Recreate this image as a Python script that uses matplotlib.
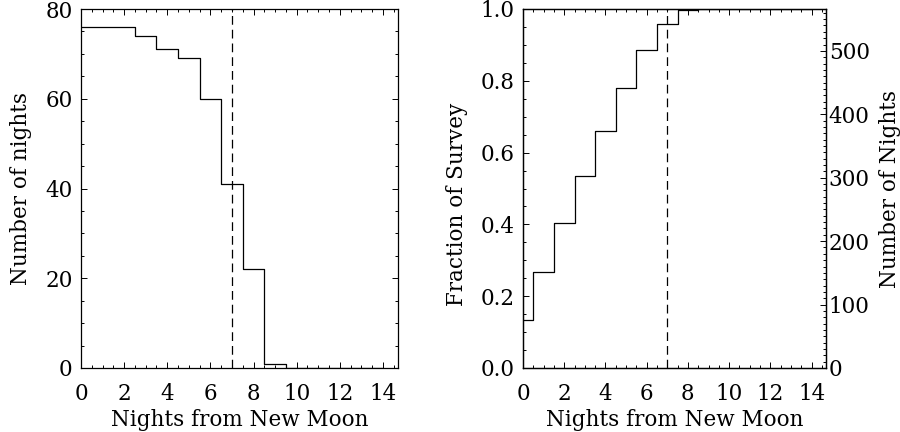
import numpy as np
import matplotlib
matplotlib.use("Agg")
import matplotlib.pyplot as plt
from matplotlib.ticker import MultipleLocator, FormatStrFormatter

# Nights from new moon and number of survey nights at each offset
nights = [0, 1, 2, 3, 4, 5, 6, 7, 8, 9, 10, 11, 12, 13, 14]
counts = [76, 76, 76, 74, 71, 69, 60, 41, 22, 1, 0, 0, 0, 0, 0]
moon_cut = 7

x = np.array(nights)
n = np.array(counts)
total = n.sum()
cum_frac = np.cumsum(n) / total

plt.rcParams["font.family"] = ["DejaVu Serif"]
plt.rcParams["font.size"] = 15.5
plt.rcParams["axes.linewidth"] = 0.9

fig = plt.figure(figsize=(9, 4.32), dpi=100)
W, H = 900, 432


def px_axes(x0, y0, x1, y1):
    return fig.add_axes([x0 / W, 1 - y1 / H, (x1 - x0) / W, (y1 - y0) / H])


def style_y(ax, pad):
    ax.tick_params(axis="y", which="major", length=4.5, width=0.7, pad=pad)
    ax.tick_params(axis="y", which="minor", length=2.4, width=0.7, pad=pad)


def style_x(ax):
    ax.set_xlim(0, 14.7)
    ax.xaxis.set_major_locator(MultipleLocator(2))
    ax.xaxis.set_minor_locator(MultipleLocator(0.5))
    ax.tick_params(axis="x", which="both", direction="in", top=True, bottom=True, pad=11)
    ax.tick_params(axis="x", which="major", length=4.5, width=0.7)
    ax.tick_params(axis="x", which="minor", length=2.4, width=0.7)
    ax.set_xlabel("Nights from New Moon", labelpad=3)


def dashed_cut(ax):
    ln = ax.axvline(moon_cut, color="black", lw=0.9)
    ln.set_dashes((7, 4))


# Left: histogram of nights
ax1 = px_axes(81, 9, 398, 368)
ax1.step(x, n, where="mid", color="black", lw=0.9)
dashed_cut(ax1)
style_x(ax1)
ax1.set_ylim(0, 80)
ax1.yaxis.set_major_locator(MultipleLocator(20))
ax1.yaxis.set_minor_locator(MultipleLocator(5))
ax1.tick_params(axis="y", which="both", direction="in", left=True, right=True)
style_y(ax1, 6)
ax1.set_ylabel("Number of nights")
ax1.yaxis.set_label_coords(-0.155, 0.5)

# Right: cumulative fraction of the survey
ax2 = px_axes(523, 9, 826, 368)
ax2.step(x, cum_frac, where="mid", color="black", lw=0.9)
dashed_cut(ax2)
style_x(ax2)
ax2.set_ylim(0, 1.0)
ax2.yaxis.set_major_locator(MultipleLocator(0.2))
ax2.yaxis.set_minor_locator(MultipleLocator(0.05))
ax2.yaxis.set_major_formatter(FormatStrFormatter("%.1f"))
ax2.tick_params(axis="y", which="both", direction="in", left=True, right=False)
style_y(ax2, 6)
ax2.set_ylabel("Fraction of Survey")
ax2.yaxis.set_label_coords(-0.183, 0.455)

# Right-hand scale in absolute nights
ax3 = ax2.twinx()
ax3.set_ylim(0, total)
ax3.yaxis.set_major_locator(MultipleLocator(100))
ax3.yaxis.set_minor_locator(MultipleLocator(10))
ax3.tick_params(axis="y", which="both", direction="in")
style_y(ax3, 2)
ax3.set_ylabel("Number of Nights")
ax3.yaxis.set_label_coords(1.175, 0.5)

fig.savefig("out.png", dpi=100)
